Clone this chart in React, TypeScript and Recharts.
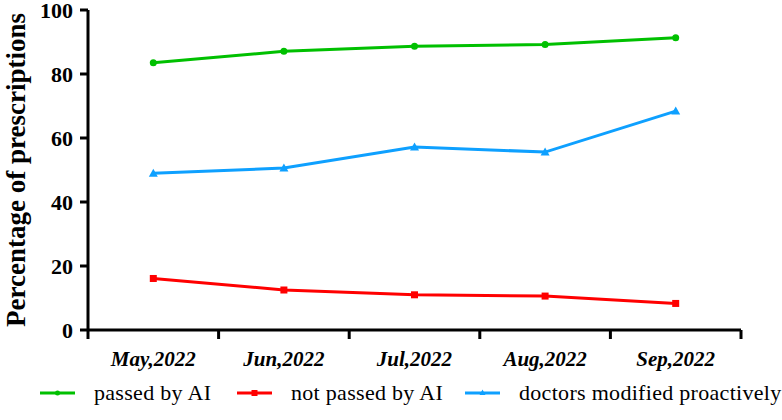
import React from 'react';
import { LineChart, Line, XAxis, YAxis, Legend } from 'recharts';

const categories = ['May,2022', 'Jun,2022', 'Jul,2022', 'Aug,2022', 'Sep,2022'];
const passedByAI = [83.5, 87.1, 88.7, 89.2, 91.3];
const notPassedByAI = [16.1, 12.5, 11.0, 10.6, 8.3];
const doctorsModified = [49.0, 50.6, 57.2, 55.6, 68.4];
const yTicks = [0, 20, 40, 60, 80, 100];

const data = categories.map((c, i) => ({
  month: c,
  passed: passedByAI[i],
  notPassed: notPassedByAI[i],
  modified: doctorsModified[i],
}));

const W = 782;
const H = 420;
const LEFT = 88;
const RIGHT_MARGIN = 41;
const PLOT_W = W - LEFT - RIGHT_MARGIN;
const HALF = PLOT_W / 10;
const FONT = "'Liberation Serif', 'Times New Roman', serif";

const GREEN = '#00c000';
const RED = '#ff0000';
const BLUE = '#0ea0ff';

const XTick = (props: any) => {
  const { x, y, payload, index } = props;
  const top = y - 8;
  return (
    <g>
      <line x1={x - HALF} y1={top} x2={x - HALF} y2={y + 1} stroke="#000" strokeWidth={3} />
      {index === categories.length - 1 && (
        <line x1={x + HALF} y1={top} x2={x + HALF} y2={y + 1} stroke="#000" strokeWidth={3} />
      )}
      <text
        x={x}
        y={y + 28}
        textAnchor="middle"
        style={{ fontFamily: FONT, fontWeight: 'bold', fontStyle: 'italic', fontSize: 21 }}
        fill="#000"
      >
        {payload.value}
      </text>
    </g>
  );
};

const Square = (props: any) => {
  const { cx, cy } = props;
  return <rect x={cx - 3.5} y={cy - 3.5} width={7} height={7} fill={RED} />;
};
const Tri = (props: any) => {
  const { cx, cy } = props;
  return <polygon points={`${cx},${cy - 4.5} ${cx + 4.5},${cy + 3.5} ${cx - 4.5},${cy + 3.5}`} fill={BLUE} />;
};
const Dot = (props: any) => {
  const { cx, cy } = props;
  return <circle cx={cx} cy={cy} r={3.5} fill={GREEN} />;
};

const legendItems = [
  { label: 'passed by AI', color: GREEN, shape: 'circle', width: 197 },
  { label: 'not passed by AI', color: RED, shape: 'square', width: 228 },
  { label: 'doctors modified proactively', color: BLUE, shape: 'triangle', width: 317 },
];

const LegendContent = () => (
  <div
    style={{
      display: 'flex',
      alignItems: 'center',
      paddingLeft: 40,
      fontFamily: FONT,
      fontSize: 22,
      color: '#000',
      whiteSpace: 'nowrap',
    }}
  >
    {legendItems.map((it) => (
      <div key={it.label} style={{ display: 'flex', alignItems: 'center', width: it.width, flex: 'none' }}>
        <svg width={35} height={12} style={{ marginRight: 19, flex: 'none' }}>
          <line x1={0} y1={6} x2={35} y2={6} stroke={it.color} strokeWidth={3} />
          {it.shape === 'circle' && <circle cx={17.5} cy={6} r={2.5} fill={it.color} />}
          {it.shape === 'square' && <rect x={14.5} y={3} width={6} height={6} fill={it.color} />}
          {it.shape === 'triangle' && <polygon points="17.5,2.5 20.5,8 14.5,8" fill={it.color} />}
        </svg>
        <span style={{ letterSpacing: 0.3 }}>{it.label}</span>
      </div>
    ))}
  </div>
);

export default function App() {
  return (
    <div style={{ position: 'absolute', left: 0, top: 0, background: '#fff' }}>
      <LineChart width={W} height={H} data={data} margin={{ top: 10, right: RIGHT_MARGIN, bottom: 0, left: 0 }}>
        <XAxis
          dataKey="month"
          padding={{ left: HALF, right: HALF }}
          axisLine={{ stroke: '#000', strokeWidth: 3 }}
          tickLine={false}
          tickSize={8}
          tickMargin={0}
          tick={<XTick />}
          interval={0}
          height={50}
        />
        <YAxis
          width={LEFT}
          domain={[0, 100]}
          ticks={yTicks}
          interval={0}
          axisLine={{ stroke: '#000', strokeWidth: 3 }}
          tickLine={{ stroke: '#000', strokeWidth: 3 }}
          tickSize={8}
          tickMargin={7}
          tick={{
            fill: '#000',
            fontSize: 22,
            fontWeight: 'bold',
            fontFamily: FONT,
          }}
          label={{
            value: 'Percentage of prescriptions',
            angle: -90,
            position: 'insideLeft',
            dx: 10,
            dy: 0,
            style: {
              textAnchor: 'middle',
              fill: '#000',
              fontSize: 27,
              fontWeight: 'bold',
              fontFamily: FONT,
            },
          }}
        />
        <Legend verticalAlign="bottom" align="left" height={40} content={<LegendContent />} />
        <Line dataKey="passed" stroke={GREEN} strokeWidth={3} dot={<Dot />} isAnimationActive={false} />
        <Line dataKey="notPassed" stroke={RED} strokeWidth={3} dot={<Square />} isAnimationActive={false} />
        <Line dataKey="modified" stroke={BLUE} strokeWidth={3} dot={<Tri />} isAnimationActive={false} />
      </LineChart>
    </div>
  );
}
